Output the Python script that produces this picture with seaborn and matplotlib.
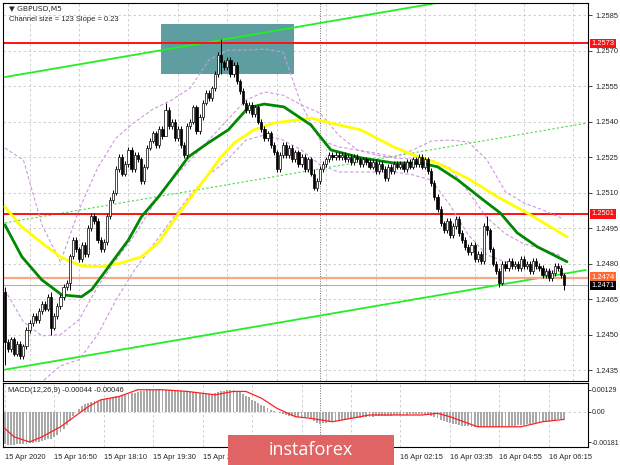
import numpy as np
import pandas as pd
import matplotlib
matplotlib.use("Agg")
import matplotlib.pyplot as plt
import seaborn as sns
from matplotlib.patches import Rectangle

# GBPUSD M5 closes, one per bar (bar 0 = 15 Apr 15:30)
closes = [
    1.2447,
    1.2444, 1.2448, 1.2442, 1.2446, 1.2441, 1.2445,
    1.2452, 1.2455, 1.2458, 1.2456,
    1.2460, 1.2463, 1.2461, 1.2466,
    1.2453,
    1.2458, 1.2462, 1.2466, 1.2470, 1.2472,
    1.2483,
    1.2490, 1.2486, 1.2482, 1.2488, 1.2484,
    1.2495, 1.2500, 1.2498,
    1.2490, 1.2486, 1.2489,
    1.2500, 1.2507, 1.2510,
    1.2520, 1.2525, 1.2518,
    1.2522, 1.2528, 1.2520, 1.2526,
    1.2524, 1.2515, 1.2521, 1.2529, 1.2532,
    1.2535, 1.2530, 1.2537, 1.2534,
    1.2545, 1.2538,
    1.2540, 1.2533, 1.2537, 1.2530, 1.2526, 1.2538,
    1.2540, 1.2546, 1.2536, 1.2542,
    1.2548, 1.2552, 1.2550, 1.2554,
    1.2560, 1.2568,
    1.2565,
    1.2563, 1.2566, 1.2560, 1.2564,
    1.2557, 1.2553,
    1.2548, 1.2545,
    1.2547, 1.2543, 1.2546, 1.2540,
    1.2537, 1.2533, 1.2535,
    1.2530, 1.2527, 1.2520, 1.2526,
    1.2530, 1.2526, 1.2529, 1.2524, 1.2527, 1.2522,
    1.2525, 1.2520, 1.2524, 1.2518,
    1.2512, 1.2515,
    1.2520, 1.2522, 1.2524,
    1.2526, 1.2525, 1.2526, 1.2525, 1.2526, 1.2524, 1.2525,
    1.2523, 1.2525, 1.2524, 1.2522, 1.2524, 1.2523, 1.2521,
    1.2523, 1.2519, 1.2522, 1.2520, 1.2516, 1.2521, 1.2519, 1.2522,
    1.2521, 1.2522, 1.2520, 1.2523, 1.2521, 1.2524, 1.2522,
    1.2525, 1.2521, 1.2524, 1.2519,
    1.2514, 1.2508, 1.2503, 1.2497,
    1.2494, 1.2498, 1.2492, 1.2496,
    1.2499, 1.2493, 1.2490, 1.2487,
    1.2485, 1.2488, 1.2482, 1.2484, 1.2481,
    1.2496, 1.2494,
    1.2486, 1.2480, 1.2477,
    1.2472,
    1.2480, 1.2478, 1.2481, 1.2479, 1.2480, 1.2478,
    1.2482, 1.2479, 1.2480, 1.2477, 1.2481, 1.2479,
    1.2478, 1.2475, 1.2477, 1.2474, 1.2476, 1.2479,
    1.2478, 1.2475,
    1.2471,
]
first_open = 1.2468
# bars with a long shadow: bar -> (high, low)
spikes = {0: (1.2470, 1.2437), 15: (1.2468, 1.2450), 21: (1.2484, 1.2469),
          52: (1.2548, 1.2536), 70: (1.2575, 1.2560), 100: (1.2520, 1.2511),
          156: (1.2500, 1.2492), 160: (1.2478, 1.2470), 181: (1.2476, 1.2469)}
shadow = 0.00012

# moving averages, read at sparse bars
green_x = [0, 5.5, 11.9, 18.4, 24.8, 28.1, 34.5, 40, 44.2, 49.7, 53.9, 59.4, 65.8, 72.3,
           78.7, 83.9, 90.3, 99, 105.5, 115.2, 125.8, 134.5, 140, 146.5, 154.8, 160.3,
           165.8, 172.3, 181.9]
green_ma = [1.24964, 1.24829, 1.24732, 1.24668, 1.24660, 1.24690, 1.24803, 1.24900,
            1.24998, 1.25082, 1.25154, 1.25251, 1.25310, 1.25365, 1.25458, 1.25474,
            1.25462, 1.25386, 1.25280, 1.25247, 1.25225, 1.25225, 1.25209, 1.25154,
            1.25069, 1.25014, 1.24930, 1.24871, 1.24808]
yellow_x = [0, 5.5, 11.9, 18.4, 24.8, 31.3, 37.7, 44.2, 49.7, 54.8, 60.3, 64.5, 70, 74.2,
            80.6, 87.1, 99, 105.5, 115.2, 125.8, 134.5, 140, 150.6, 159.4, 169, 181.9]
yellow_ma = [1.25040, 1.24955, 1.24888, 1.24825, 1.24791, 1.24787, 1.24803, 1.24829,
             1.24888, 1.24985, 1.25082, 1.25154, 1.25251, 1.25310, 1.25365, 1.25394,
             1.25415, 1.25394, 1.25365, 1.25293, 1.25247, 1.25225, 1.25154, 1.25082,
             1.25014, 1.24913]

# bollinger bands, read every 6 bars
bb_x = list(range(0, 181, 6))
bb_up = [1.25288, 1.25238, 1.24964, 1.24807, 1.25027, 1.25204, 1.25331, 1.25398,
         1.25453, 1.25491, 1.25542, 1.25660, 1.25702, 1.25702, 1.25706, 1.25694,
         1.25470, 1.25322, 1.25293, 1.25280, 1.25267, 1.25250, 1.25280, 1.25318,
         1.25322, 1.25314, 1.25238, 1.25103, 1.25056, 1.25027, 1.24993]
bb_mid = [1.24689, 1.24554, 1.24495, 1.24500, 1.24563, 1.24702, 1.24816, 1.24921,
          1.25048, 1.25153, 1.25238, 1.25322, 1.25407, 1.25491, 1.25525, 1.25512,
          1.25470, 1.25436, 1.25343, 1.25280, 1.25259, 1.25246, 1.25242, 1.25238,
          1.25204, 1.25103, 1.24993, 1.24926, 1.24883, 1.24862, 1.24833]
bb_low = [1.24141, 1.24225, 1.24301, 1.24368, 1.24394, 1.24499, 1.24647, 1.24774,
          1.24879, 1.24985, 1.25090, 1.25175, 1.25238, 1.25322, 1.25343, 1.25322,
          1.25280, 1.25217, 1.25187, 1.25187, 1.25187, 1.25187, 1.25175, 1.25153,
          1.25048, 1.24921, 1.24837, 1.24807, 1.24791, 1.24774, 1.24765]

# regression channel
channel_x = [0, 188]
channel_top = [1.25588, 1.26009]
channel_mid = [1.24972, 1.25393]
channel_low = [1.24352, 1.24773]

levels = [1.2573, 1.2501]
support = 1.2474
last_price = 1.2471
box_x = [50.6, 93.5]
box_y = [1.25601, 1.25812]

# MACD(12,26,9): main histogram per bar and signal line, in 1e-5
macd_main = [
    -195, -196, -197, -196, -195, -194, -192, -190, -188, -185,
    -182, -178, -174, -170, -165, -160, -150, -138, -122, -105,
    -80, -55, -28, -5, 15, 32, 45, 52, 58, 62,
    66, 70, 74, 78, 82, 86, 90, 94, 98, 101,
    104, 108, 112, 116, 120, 123, 126, 128, 130, 131,
    132, 131, 130, 129, 127, 125, 123, 121, 120, 118,
    116, 114, 112, 110, 108, 106, 104, 106, 110, 115,
    120, 124, 128, 130, 128, 122, 114, 104, 94, 84,
    72, 62, 52, 42, 32, 22, 12, 4, -4, -10,
    -16, -20, -24, -26, -28, -30, -31, -32, -34, -40,
    -55, -68, -72, -70, -66, -62, -58, -55, -52, -50,
    -48, -45, -42, -40, -37, -35, -33, -31, -30, -29,
    -28, -27, -26, -25, -24, -23, -22, -21, -20, -19,
    -18, -17, -16, -15, -14, -13, -14, -18, -25, -32,
    -40, -48, -55, -61, -67, -72, -76, -80, -83, -86,
    -88, -90, -91, -92, -92, -91, -89, -90, -91, -92,
    -93, -92, -90, -88, -86, -84, -82, -80, -77, -74,
    -71, -68, -65, -62, -59, -56, -53, -50, -48, -46,
    -45, -44,
]
signal_x = [0, 3, 8, 12, 18, 24, 27, 31, 37, 43, 48, 51, 59, 68, 74, 78, 83, 88, 94,
            99, 106, 112, 118, 126, 135, 140, 144, 153, 160, 167, 174, 181]
signal = [-100, -150, -180, -150, -90, -10, 30, 70, 90, 130, 130, 130, 120, 100, 120,
          120, 80, 20, -30, -40, -60, -40, -20, -20, -20, -10, -30, -90, -90, -90, -60, -46]

# labels under the instaforex banner are not visible, so only the shown ones are kept
tick_bars = [0, 16, 32, 48, 64, 128, 144, 160, 176]
tick_labels = ["15 Apr 2020", "15 Apr 16:50", "15 Apr 18:10", "15 Apr 19:30",
               "15 Apr 20:50", "16 Apr 02:15", "16 Apr 03:35", "16 Apr 04:55",
               "16 Apr 06:15"]
grid_bars = list(range(0, 189, 16))
price_ticks = [1.2585, 1.2570, 1.2555, 1.2540, 1.2525, 1.2510, 1.2495, 1.2480,
               1.2465, 1.2450, 1.2435]
day_break = 102


def main():
    sns.set_style("white")
    plt.rcParams['font.family'] = ['Liberation Sans', 'DejaVu Sans']
    small = 5.4

    fig = plt.figure(figsize=(6.2, 4.65), dpi=100)
    ax = fig.add_axes([3 / 620, 1 - 381 / 465, 585 / 620, 378 / 465])
    mx = fig.add_axes([3 / 620, 1 - 447 / 465, 585 / 620, 64 / 465])

    df = pd.DataFrame({'close': closes})
    df['bar'] = np.arange(len(df))
    df['open'] = df['close'].shift(1).fillna(first_open)
    df['high'] = df[['open', 'close']].max(axis=1) + shadow
    df['low'] = df[['open', 'close']].min(axis=1) - shadow
    for b, (h, l) in spikes.items():
        df.loc[b, 'high'] = h
        df.loc[b, 'low'] = l

    xmin, xmax = -0.6, 188.7
    grid_kw = dict(color='#c8c8c8', lw=0.6, ls=(0, (3, 3)), zorder=0)
    for p in price_ticks:
        ax.axhline(p, **grid_kw)
    for b in range(8, 189, 16):
        ax.axvline(b, **grid_kw)
    ax.axvline(day_break, color='#707070', lw=0.7, ls=(0, (1, 1.5)), zorder=0.5)

    # analysis box
    ax.add_patch(Rectangle((box_x[0], box_y[0]), box_x[1] - box_x[0], box_y[1] - box_y[0],
                           facecolor='#5f9ea0', edgecolor='none', zorder=1))

    # channel
    ax.plot(channel_x, channel_top, color='#22ee22', lw=1.3, zorder=2)
    ax.plot(channel_x, channel_low, color='#22ee22', lw=1.3, zorder=2)
    ax.plot(channel_x, channel_mid, color='#44dd44', lw=0.8, ls=(0, (2, 2)), zorder=2)

    # levels
    for lv in levels:
        ax.axhline(lv, color='#ff1010', lw=1.4, zorder=2)
    ax.axhline(support, color='#f8a888', lw=1.6, zorder=2)
    ax.axhline(last_price, color='#a0a0a0', lw=0.6, zorder=2)

    # bollinger bands
    for band in (bb_up, bb_mid, bb_low):
        ax.plot(bb_x, band, color='#cc99dd', lw=0.8, ls=(0, (3, 2)), zorder=2.5)

    sns.lineplot(x=yellow_x, y=yellow_ma, ax=ax, color='#ffff00', lw=2.0, zorder=3)
    sns.lineplot(x=green_x, y=green_ma, ax=ax, color='#008800', lw=2.0, zorder=3)

    # candles
    ax.vlines(df['bar'], df['low'], df['high'], color='black', lw=0.7, zorder=4)
    up = df['close'] >= df['open']
    body = (df['close'] - df['open']).abs().clip(lower=0.00003)
    ax.bar(df['bar'][up], body[up], bottom=df['open'][up], width=0.7,
           color='white', edgecolor='black', lw=0.5, zorder=5)
    ax.bar(df['bar'][~up], body[~up], bottom=df['close'][~up], width=0.7,
           color='black', edgecolor='black', lw=0.5, zorder=5)

    ax.set_xlim(xmin, xmax)
    ax.set_ylim(1.24304, 1.25901)
    ax.set_xticks([])
    ax.yaxis.tick_right()
    ax.set_yticks(price_ticks)
    ax.set_yticklabels([f"{p:.4f}" for p in price_ticks], fontsize=small)
    ax.tick_params(axis='y', length=3, width=0.6, pad=2, direction='out', right=True)
    for s in ax.spines.values():
        s.set_color('black')
        s.set_linewidth(0.8)

    # price tags
    tag_kw = dict(transform=ax.get_yaxis_transform(), fontsize=small, va='center', ha='left',
                  color='white', zorder=10, clip_on=False)
    for lv in levels:
        ax.text(1.006, lv, f"{lv:.4f}", bbox=dict(boxstyle='square,pad=0.15', fc='#ff1010', ec='none'), **tag_kw)
    ax.text(1.006, support + 0.00003, f"{support:.4f}", bbox=dict(boxstyle='square,pad=0.15', fc='#ff6a30', ec='none'), **tag_kw)
    ax.text(1.006, last_price - 0.00003, f"{last_price:.4f}", bbox=dict(boxstyle='square,pad=0.15', fc='black', ec='none'), **tag_kw)

    ax.text(0.01, 0.992, "\u25bc GBPUSD,M5", transform=ax.transAxes, fontsize=small,
            va='top', ha='left', family=['DejaVu Sans'])
    ax.text(0.01, 0.966, "Channel size = 123 Slope = 0.23", transform=ax.transAxes,
            fontsize=small, va='top', ha='left')

    # MACD
    mx.bar(np.arange(len(macd_main)), np.array(macd_main) * 1e-5, width=0.62,
           color='#a8a8a8', lw=0, zorder=2)
    sns.lineplot(x=signal_x, y=np.array(signal) * 1e-5, ax=mx, color='#ff2020', lw=0.9, zorder=3)
    mx.axhline(0, **grid_kw)
    for b in grid_bars:
        mx.axvline(b, **grid_kw)
    mx.axvline(day_break, color='#707070', lw=0.7, ls=(0, (1, 1.5)), zorder=0.5)
    mx.set_xlim(xmin, xmax)
    mx.set_ylim(-0.0021, 0.0017)
    mx.yaxis.tick_right()
    mx.set_yticks([0.00129, 0.0, -0.00181])
    mx.set_yticklabels(["0.00129", "0.00", "-0.00181"], fontsize=5.0)
    mx.set_xticks(tick_bars)
    mx.set_xticklabels(tick_labels, fontsize=small, ha='left')
    mx.tick_params(axis='x', length=3, width=0.6, pad=2)
    mx.tick_params(axis='y', length=2, width=0.6, pad=1, right=True)
    for s in mx.spines.values():
        s.set_color('black')
        s.set_linewidth(0.8)
    mx.text(0.008, 0.93, "MACD(12,26,9) -0.00044 -0.00046", transform=mx.transAxes,
            fontsize=small, va='top', ha='left')

    # watermark banner
    fig.patches.append(Rectangle((228 / 620, 0), 166 / 620, 30 / 465, transform=fig.transFigure,
                                 facecolor='#e06464', edgecolor='none', zorder=20))
    fig.text(311 / 620, 15 / 465, "instaforex", color='white', fontsize=13,
             ha='center', va='center', zorder=21, family=['Open Sans', 'DejaVu Sans'])

    fig.savefig('out.png', dpi=100, facecolor='white')
    plt.close(fig)


if __name__ == "__main__":
    main()
